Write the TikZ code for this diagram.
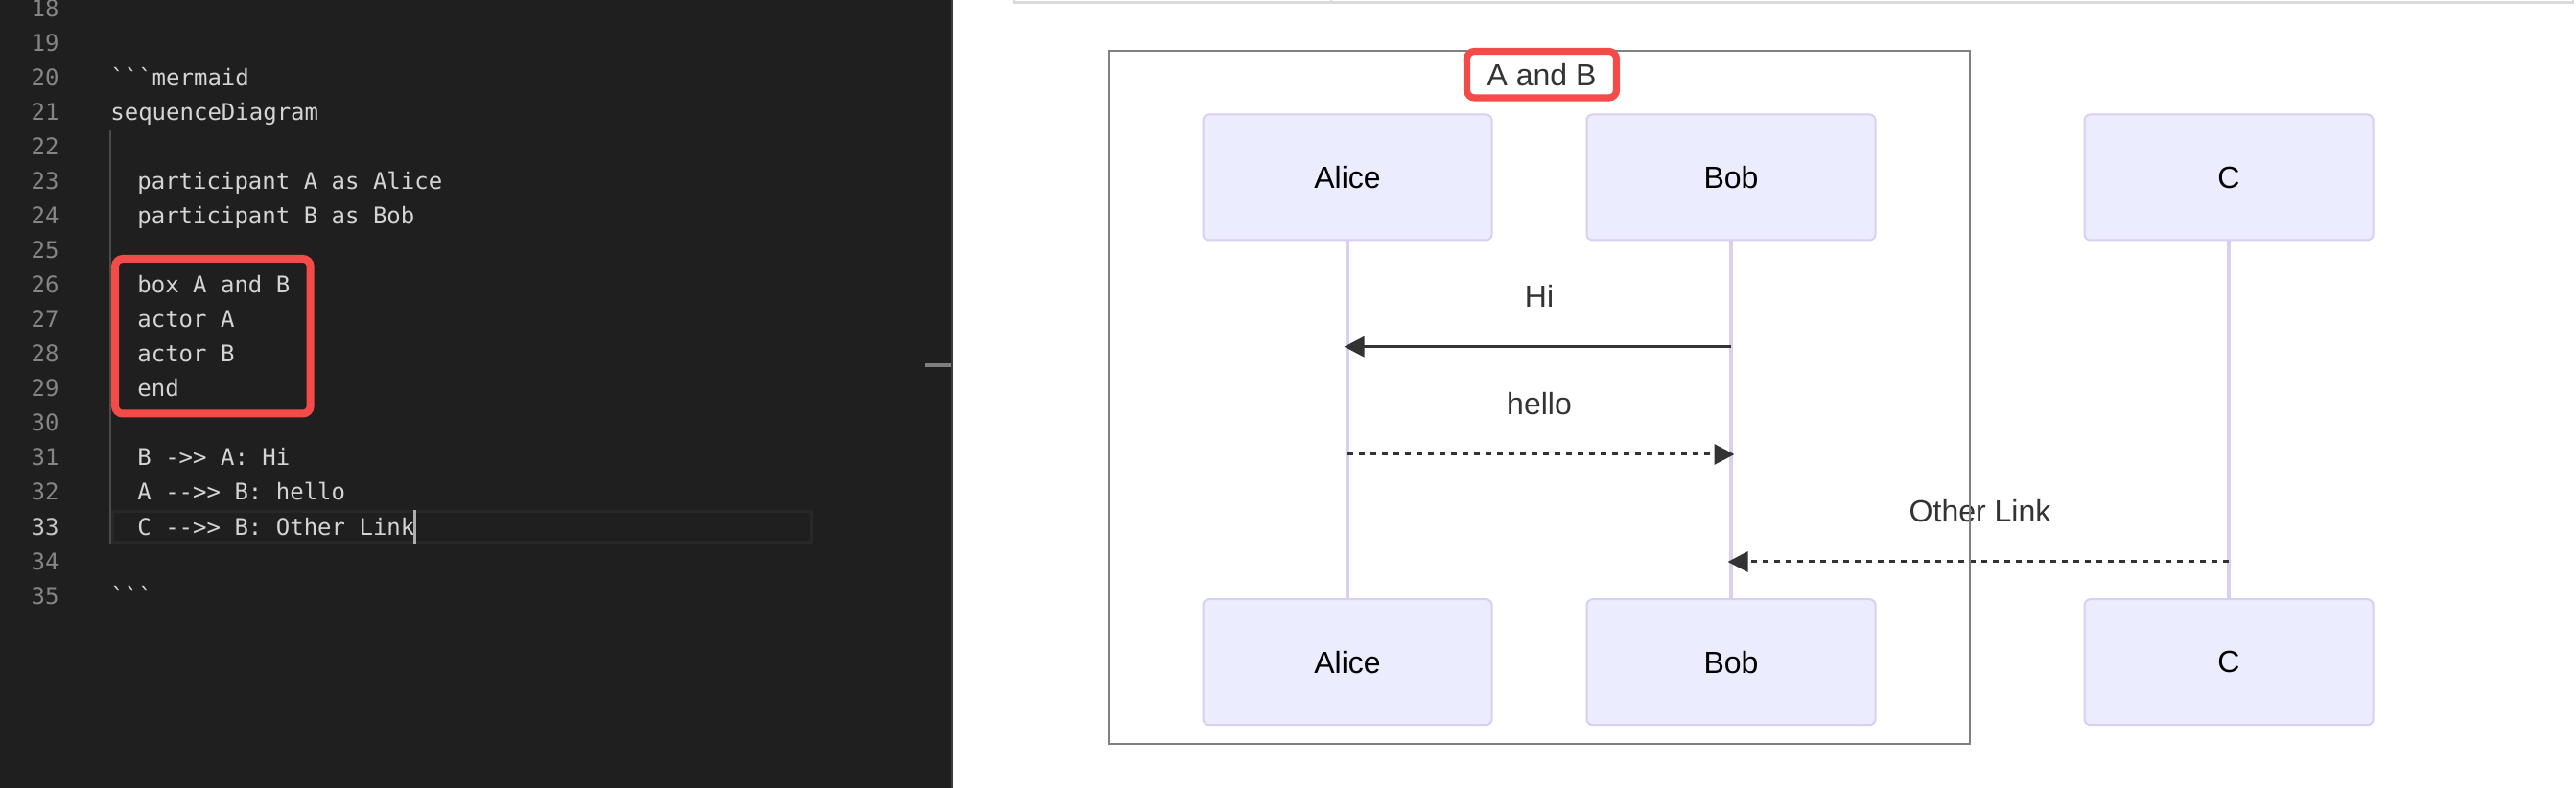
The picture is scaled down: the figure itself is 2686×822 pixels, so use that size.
\documentclass[tikz,border=0pt]{standalone}
\usepackage{fontspec}
\setmainfont{Liberation Sans}
\newfontfamily\codefont{DejaVu Sans Mono}
\usetikzlibrary{arrows.meta}
\definecolor{edbg}{HTML}{1F1F1F}
\definecolor{edstrip}{HTML}{3C3C3C}
\definecolor{edsep}{HTML}{343434}
\definecolor{scrollmk}{HTML}{7F7F7F}
\definecolor{curline}{HTML}{282828}
\definecolor{guidec}{HTML}{4A4A4A}
\definecolor{cursorc}{HTML}{AEAFAD}
\definecolor{codec}{HTML}{D4D4D4}
\definecolor{lnumc}{HTML}{858585}
\definecolor{lnumact}{HTML}{C6C6C6}
\definecolor{hlred}{HTML}{F44B48}
\definecolor{topln}{HTML}{D9D9D9}
\definecolor{boxgray}{HTML}{808080}
\definecolor{actfill}{HTML}{ECECFF}
\definecolor{actdraw}{HTML}{DACEF3}
\definecolor{msgc}{HTML}{333333}
\tikzset{
  code/.style={anchor=base west, inner sep=0pt, text=codec, font=\codefont\fontsize{12pt}{14pt}\selectfont},
  lnum/.style={anchor=base east, inner sep=0pt, text=lnumc, font=\codefont\fontsize{12pt}{14pt}\selectfont},
  redrect/.style={draw=hlred, line width=4pt, rounded corners=4pt},
  actorbox/.style={draw=actdraw, fill=actfill, line width=1pt, rounded corners=3pt,
    minimum width=150.5pt, minimum height=65.5pt, inner sep=0pt, text=black,
    font=\fontsize{16pt}{19pt}\selectfont},
  msglabel/.style={inner sep=0pt, text=msgc, font=\fontsize{16pt}{19pt}\selectfont},
  lifeline/.style={draw=actdraw, line width=1.9pt},
  msgline/.style={draw=msgc, line width=1.5pt, -{Triangle[length=10.5pt,width=10.5pt]}},
  msgdash/.style={msgline, dash pattern=on 3pt off 3pt},
  titlebox/.style={draw=hlred, fill=white, line width=3.6pt, rounded corners=4pt,
    minimum width=78pt, minimum height=24.25pt, inner sep=0pt, text=msgc,
    font=\fontsize{16pt}{19pt}\selectfont}
}
\begin{document}
\begin{tikzpicture}[x=0.5pt,y=-0.5pt]
\useasboundingbox (0,0) rectangle (2686,822);
\fill[white] (0,0) rectangle (2686,822);
% ---------------- editor panel ----------------
\fill[edbg] (0,0) rectangle (994,822);
\fill[edstrip] (992,0) rectangle (994,822);
\draw[edsep, line width=0.8pt] (964.5,0) -- (964.5,822);
\fill[scrollmk] (965,379) rectangle (992,383);
% current line highlight
\draw[curline, line width=1.5pt] (117,533.5) rectangle (846,565.5);
% indent guide
\draw[guidec, line width=0.8pt] (114.8,136) -- (114.8,567);
% line numbers
\foreach \n in {18,...,32,34,35}
  \node[lnum] (ln\n) at (62,{305.7+(\n-26)*36.05}) {\n};
\node[lnum, text=lnumact] (ln33) at (62,{305.7+7*36.05}) {33};
% code text
\node[code] (c20) at (115,89.4) {\textasciigrave\textasciigrave\textasciigrave mermaid};
\node[code] (c21) at (115,125.5) {sequenceDiagram};
\node[code] (c23) at (143,197.6) {participant A as Alice};
\node[code] (c24) at (143,233.6) {participant B as Bob};
\node[code] (c26) at (143,305.7) {box A and B};
\node[code] (c27) at (143,341.8) {actor A};
\node[code] (c28) at (143,377.8) {actor B};
\node[code] (c29) at (143,413.9) {end};
\node[code] (c31) at (143,486.0) {B -{}>{}> A: Hi};
\node[code] (c32) at (143,522.0) {A -{}-{}>{}> B: hello};
\node[code] (c33) at (143,558.1) {C -{}-{}>{}> B: Other Link};
\node[code] (c35) at (115,630.2) {\textasciigrave\textasciigrave\textasciigrave};
% cursor
\fill[cursorc] (431,532) rectangle (434,567);
% red highlight in editor
\draw[redrect] (120,270) rectangle (323.7,431.5);
% ---------------- preview panel ----------------
\draw[topln, line width=1.25pt] (1057,0) -- (1057,2.5) -- (2683,2.5) -- (2683,0);
\draw[topln, line width=1.25pt] (1388,0) -- (1388,2.5);
% actors
\node[actorbox] (aT) at (1405,185) {Alice};
\node[actorbox] (bT) at (1805,185) {Bob};
\node[actorbox] (cT) at (2324,185) {C};
\node[actorbox] (aB) at (1405,690.7) {Alice};
\node[actorbox] (bB) at (1805,690.7) {Bob};
\node[actorbox] (cB) at (2324,690.7) {C};
% lifelines
\draw[lifeline] (aT.south) -- (aB.north);
\draw[lifeline] (bT.south) -- (bB.north);
\draw[lifeline] (cT.south) -- (cB.north);
% messages
\node[msglabel] (lHi) at (1605,309) {Hi};
\node[msglabel] (lHello) at (1605,421) {hello};
\node[msglabel] (lOther) at (2064.5,533.5) {Other Link};
\coordinate (hiS) at (1805,361.7);
\coordinate (hiE) at (1401.5,361.7);
\coordinate (heS) at (1405,474);
\coordinate (heE) at (1808.5,474);
\coordinate (olS) at (2324,586);
\coordinate (olE) at (1801.5,586);
\draw[msgline] (hiS) -- (hiE);
\draw[msgdash] (heS) -- (heE);
\draw[msgdash] (olS) -- (olE);
% box group
\draw[boxgray, line width=1pt] (1155.7,53.3) rectangle (2053.7,775.5);
\node[titlebox] (ttl) at (1607.5,77.75) {A and B};
\end{tikzpicture}
\end{document}
